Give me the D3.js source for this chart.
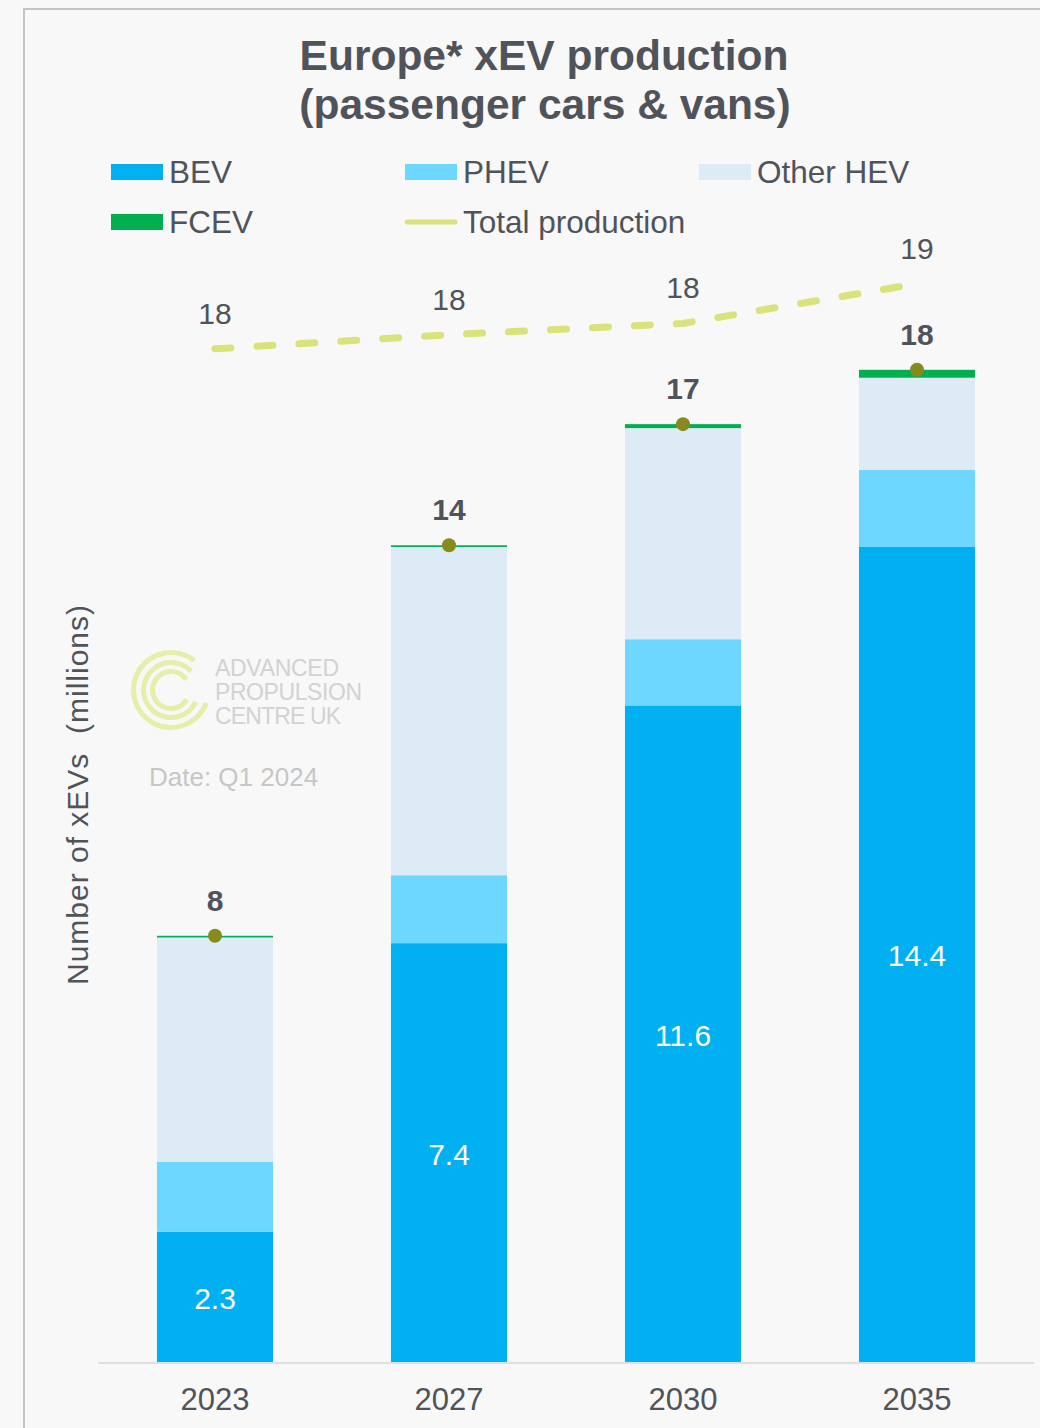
<!DOCTYPE html>
<html>
<head>
<meta charset="utf-8">
<script src="https://cdn.jsdelivr.net/npm/d3@7"></script>
<style>
  body { margin: 0; background: #fff; }
  svg text { font-family: "Liberation Sans", Arial, sans-serif; }
</style>
</head>
<body>
<svg width="1040" height="1428"></svg>
<script>
// data (millions)
var years = ["2023", "2027", "2030", "2035"];
var bev = [2.3, 7.4, 11.6, 14.4];
var phev = [1.24, 1.2, 1.17, 1.36];
var otherHev = [3.96, 5.8, 3.73, 1.63];
var fcev = [0.03, 0.03, 0.07, 0.14];
var totalProduction = [17.9, 18.15, 18.35, 19.05];

var seriesKeys = ["BEV", "PHEV", "Other HEV", "FCEV"];
var colors = {"BEV": "#00b0f0", "PHEV": "#6dd7ff", "Other HEV": "#ddebf7", "FCEV": "#00b050"};
var textColor = "#505359";

var svg = d3.select("svg");

// background + frame
svg.append("rect").attr("width", 1040).attr("height", 1428).attr("fill", "#f8f8f8");
svg.append("path")
    .attr("d", "M24,1428V9H1040")
    .attr("fill", "none")
    .attr("stroke", "#c4c4c4")
    .attr("stroke-width", 2);

var rows = years.map(function(y, i) {
    return {year: y, "BEV": bev[i], "PHEV": phev[i], "Other HEV": otherHev[i], "FCEV": fcev[i],
            total: bev[i] + phev[i] + otherHev[i] + fcev[i], prod: totalProduction[i]};
});

var x = d3.scaleBand().domain(years).range([98, 1034]).paddingInner(0.504).paddingOuter(0.252);
var y = d3.scaleLinear().domain([0, 22]).range([1362, 1362 - 22 * 56.6]);

var stack = d3.stack().keys(seriesKeys)(rows);

// watermark logo
var logo = svg.append("g").attr("transform", "translate(171,690)");
[40, 30, 21].forEach(function(r, i) {
    var arc = d3.arc().innerRadius(r - 5).outerRadius(r)
        .startAngle(0.35 + i * 0.1).endAngle(2 * Math.PI - 0.9 + i * 0.15);
    logo.append("path").attr("d", arc()).attr("fill", "#e6eeaa")
        .attr("transform", "rotate(90)");
});
var logoText = ["ADVANCED", "PROPULSION", "CENTRE UK"];
svg.append("g").selectAll("text")
    .data(logoText).enter().append("text")
    .attr("x", 215)
    .attr("y", function(d, i) { return 676 + i * 24; })
    .attr("fill", "#d2d2d2")
    .attr("font-size", 23)
    .attr("textLength", function(d, i) { return [124, 147, 126][i]; })
    .text(function(d) { return d; });
svg.append("text")
    .attr("x", 149).attr("y", 786)
    .attr("fill", "#c6c6c6")
    .attr("font-size", 26)
    .text("Date: Q1 2024");

// stacked bars
svg.append("g").selectAll("g")
    .data(stack).enter().append("g")
    .attr("fill", function(d) { return colors[d.key]; })
    .selectAll("rect")
    .data(function(d) { return d; }).enter().append("rect")
    .attr("x", function(d) { return x(d.data.year); })
    .attr("width", x.bandwidth())
    .attr("y", function(d) { return y(d[1]); })
    .attr("height", function(d) { return y(d[0]) - y(d[1]); });

// baseline
svg.append("line")
    .attr("x1", 98).attr("x2", 1034)
    .attr("y1", 1363).attr("y2", 1363)
    .attr("stroke", "#e0e0e0").attr("stroke-width", 2);

// x axis labels
var xAxis = d3.axisBottom(x).tickSize(0).tickPadding(24);
var gx = svg.append("g").attr("transform", "translate(0,1364)").call(xAxis);
gx.select(".domain").remove();
gx.selectAll("text")
    .attr("fill", textColor)
    .attr("font-size", 31)
    .attr("font-family", "Liberation Sans, Arial, sans-serif");

// BEV values inside bars
svg.append("g").selectAll("text")
    .data(rows).enter().append("text")
    .attr("x", function(d) { return x(d.year) + x.bandwidth() / 2; })
    .attr("y", function(d) { return y(d.BEV / 2) + 12; })
    .attr("text-anchor", "middle")
    .attr("fill", "#fff")
    .attr("font-size", 30)
    .text(function(d) { return d.BEV.toFixed(1); });

// total production dashed line
var line = d3.line()
    .x(function(d) { return x(d.year) + x.bandwidth() / 2; })
    .y(function(d) { return y(d.prod); });
svg.append("path")
    .datum(rows)
    .attr("d", line)
    .attr("fill", "none")
    .attr("stroke", "#d9e27b")
    .attr("stroke-width", 7)
    .attr("stroke-linecap", "round")
    .attr("stroke-dasharray", "16,26");

svg.append("g").selectAll("text")
    .data(rows).enter().append("text")
    .attr("x", function(d) { return x(d.year) + x.bandwidth() / 2; })
    .attr("y", function(d) { return y(d.prod) - 25; })
    .attr("text-anchor", "middle")
    .attr("fill", textColor)
    .attr("font-size", 30)
    .text(function(d) { return Math.round(d.prod); });

// total markers + labels
svg.append("g").selectAll("circle")
    .data(rows).enter().append("circle")
    .attr("cx", function(d) { return x(d.year) + x.bandwidth() / 2; })
    .attr("cy", function(d) { return y(d.total); })
    .attr("r", 7)
    .attr("fill", "#878b1f");

svg.append("g").selectAll("text")
    .data(rows).enter().append("text")
    .attr("x", function(d) { return x(d.year) + x.bandwidth() / 2; })
    .attr("y", function(d) { return y(d.total) - 25; })
    .attr("text-anchor", "middle")
    .attr("fill", textColor)
    .attr("font-size", 30)
    .attr("font-weight", "bold")
    .text(function(d) { return Math.round(d.total); });

// y axis title
svg.append("text")
    .attr("transform", "translate(88,795) rotate(-90)")
    .attr("text-anchor", "middle")
    .attr("fill", textColor)
    .attr("font-size", 30)
    .attr("textLength", 380)
    .attr("xml:space", "preserve")
    .text("Number of xEVs  (millions)");

// title
svg.append("text")
    .attr("x", 544).attr("y", 70)
    .attr("text-anchor", "middle")
    .attr("fill", textColor)
    .attr("font-size", 42.5)
    .attr("font-weight", "bold")
    .text("Europe* xEV production");
svg.append("text")
    .attr("x", 545).attr("y", 119)
    .attr("text-anchor", "middle")
    .attr("fill", textColor)
    .attr("font-size", 42.5)
    .attr("font-weight", "bold")
    .text("(passenger cars & vans)");

// legend
var legendItems = [
    {name: "BEV", x: 111, y: 172, type: "rect"},
    {name: "PHEV", x: 405, y: 172, type: "rect"},
    {name: "Other HEV", x: 699, y: 172, type: "rect"},
    {name: "FCEV", x: 111, y: 222, type: "rect"},
    {name: "Total production", x: 405, y: 222, type: "line"}
];
var legend = svg.append("g").selectAll("g")
    .data(legendItems).enter().append("g")
    .attr("transform", function(d) { return "translate(" + d.x + "," + d.y + ")"; });
legend.filter(function(d) { return d.type === "rect"; })
    .append("rect")
    .attr("x", 0).attr("y", -8).attr("width", 52).attr("height", 16)
    .attr("fill", function(d) { return colors[d.name]; });
legend.filter(function(d) { return d.type === "line"; })
    .append("line")
    .attr("x1", 2).attr("x2", 50).attr("y1", 0).attr("y2", 0)
    .attr("stroke", "#d9e27b").attr("stroke-width", 5).attr("stroke-linecap", "round");
legend.append("text")
    .attr("x", 58).attr("y", 11)
    .attr("fill", textColor)
    .attr("font-size", 31.5)
    .text(function(d) { return d.name; });
</script>
</body>
</html>
